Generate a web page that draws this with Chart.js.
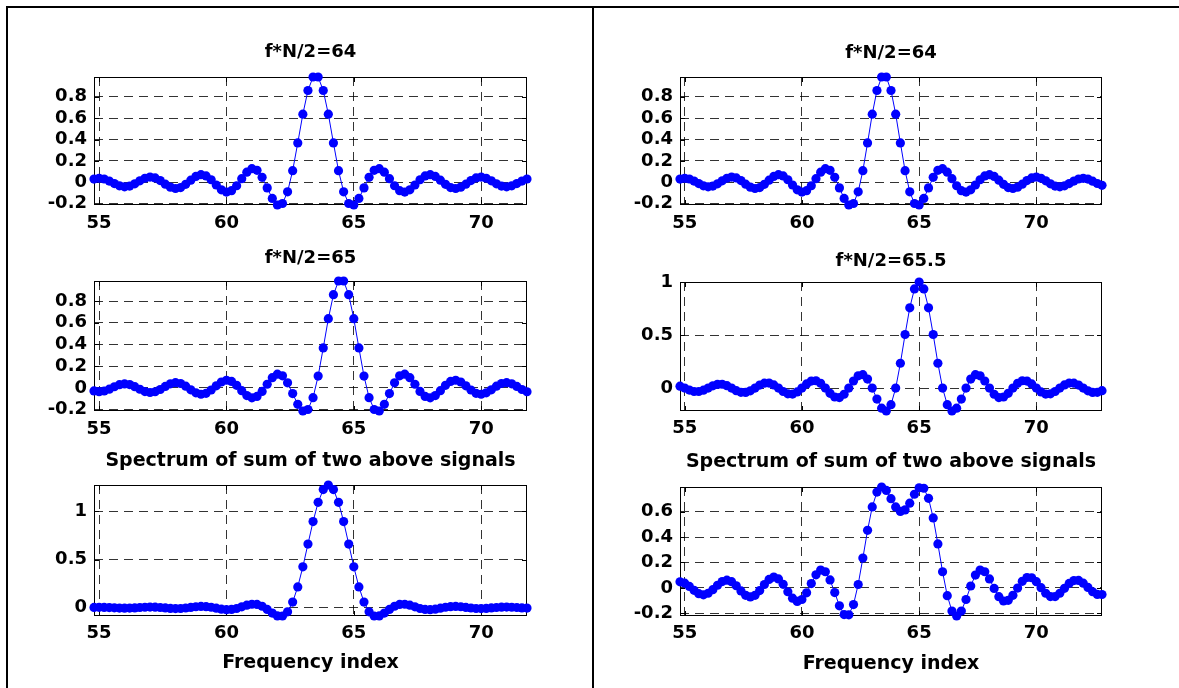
<!DOCTYPE html>
<html><head><meta charset="utf-8">
<script src="https://cdn.jsdelivr.net/npm/chart.js@4.4.1/dist/chart.umd.min.js"></script>
<style>
html,body{margin:0;padding:0;background:#fff;overflow:hidden;width:1179px;height:688px;}
#wrap{position:relative;width:1179px;height:688px;}
#wrap canvas{position:absolute;}
.rule{position:absolute;background:#000;}
</style></head><body><div id="wrap">
<div class="rule" style="left:6px;top:6px;width:1173px;height:2px"></div>
<div class="rule" style="left:6px;top:6px;width:2px;height:682px"></div>
<div class="rule" style="left:592px;top:6px;width:2px;height:682px"></div>
</div>
<script>
// ---- data ----
const freqIndex = [54.8,55.0,55.2,55.4,55.6,55.8,56.0,56.2,56.4,56.6,56.8,57.0,57.2,57.4,57.6,57.8,58.0,58.2,58.4,58.6,58.8,59.0,59.2,59.4,59.6,59.8,60.0,60.2,60.4,60.6,60.8,61.0,61.2,61.4,61.6,61.8,62.0,62.2,62.4,62.6,62.8,63.0,63.2,63.4,63.6,63.8,64.0,64.2,64.4,64.6,64.8,65.0,65.2,65.4,65.6,65.8,66.0,66.2,66.4,66.6,66.8,67.0,67.2,67.4,67.6,67.8,68.0,68.2,68.4,68.6,68.8,69.0,69.2,69.4,69.6,69.8,70.0,70.2,70.4,70.6,70.8,71.0,71.2,71.4,71.6,71.8,72.0,72.2,72.4,72.6,72.8];

const spec64 = [0.030,0.037,0.031,0.012,-0.012,-0.033,-0.042,-0.035,-0.014,0.014,
 0.038,0.049,0.041,0.016,-0.017,-0.045,-0.058,-0.049,-0.019,0.020,
 0.055,0.071,0.060,0.024,-0.025,-0.070,-0.091,-0.078,-0.032,0.034,
 0.095,0.127,0.112,0.047,-0.052,-0.151,-0.212,-0.198,-0.089,0.109,
 0.368,0.637,0.858,0.984,0.984,0.858,0.637,0.368,0.109,-0.089,
 -0.198,-0.212,-0.151,-0.052,0.047,0.112,0.127,0.095,0.034,-0.032,
 -0.078,-0.091,-0.070,-0.025,0.024,0.060,0.071,0.055,0.020,-0.019,
 -0.049,-0.058,-0.045,-0.017,0.016,0.041,0.049,0.038,0.014,-0.014,
 -0.035,-0.042,-0.033,-0.012,0.012,0.031,0.037,0.030,0.011,-0.011,
 -0.028];

const spec65 = [-0.027,-0.034,-0.028,-0.011,0.011,0.030,0.037,0.031,0.012,-0.012,
 -0.033,-0.042,-0.035,-0.014,0.014,0.038,0.049,0.041,0.016,-0.017,
 -0.045,-0.058,-0.049,-0.019,0.020,0.055,0.071,0.060,0.024,-0.025,
 -0.070,-0.091,-0.078,-0.032,0.034,0.095,0.127,0.112,0.047,-0.052,
 -0.151,-0.212,-0.198,-0.089,0.109,0.368,0.637,0.858,0.984,0.984,
 0.858,0.637,0.368,0.109,-0.089,-0.198,-0.212,-0.151,-0.052,0.047,
 0.112,0.127,0.095,0.034,-0.032,-0.078,-0.091,-0.070,-0.025,0.024,
 0.060,0.071,0.055,0.020,-0.019,-0.049,-0.058,-0.045,-0.017,0.016,
 0.041,0.049,0.038,0.014,-0.014,-0.035];

const sum64and65 = [0.003,0.004,0.003,0.001,-0.001,-0.004,-0.005,-0.004,-0.002,0.002,
 0.005,0.007,0.006,0.002,-0.002,-0.007,-0.009,-0.008,-0.003,0.003,
 0.010,0.013,0.011,0.005,-0.005,-0.015,-0.020,-0.018,-0.008,0.009,
 0.026,0.036,0.034,0.015,-0.018,-0.056,-0.085,-0.086,-0.043,0.058,
 0.216,0.424,0.660,0.894,1.093,1.226,1.273,1.226,1.093,0.894,
 0.660,0.424,0.216,0.058,-0.043,-0.086,-0.085,-0.056,-0.018,0.015,
 0.034,0.036,0.026,0.009,-0.008,-0.018,-0.020,-0.015,-0.005,0.005,
 0.011,0.013,0.010,0.003,-0.003,-0.008,-0.009,-0.007,-0.002,0.002,
 0.006,0.007,0.005,0.002,-0.002,-0.004];

const spec655 = [0.018,0.000,-0.019,-0.032,-0.032,-0.020,0.000,0.021,0.035,0.036,
 0.023,0.000,-0.024,-0.040,-0.041,-0.026,0.000,0.028,0.046,0.047,
 0.030,0.000,-0.032,-0.054,-0.056,-0.036,0.000,0.039,0.066,0.069,
 0.045,0.000,-0.049,-0.084,-0.089,-0.058,0.000,0.067,0.116,0.126,
 0.085,0.000,-0.104,-0.189,-0.216,-0.156,0.000,0.234,0.505,0.757,
 0.935,1.000,0.935,0.757,0.505,0.234,0.000,-0.156,-0.216,-0.189,
 -0.104,0.000,0.085,0.126,0.116,0.067,0.000,-0.058,-0.089,-0.084,
 -0.049,0.000,0.045,0.069,0.066,0.039,0.000,-0.036,-0.056,-0.054,
 -0.032,0.000,0.030,0.047,0.046,0.028,0.000,-0.026,-0.041,-0.040,
 -0.024];

const sum64and655 = [0.048,0.037,0.012,-0.019,-0.045,-0.054,-0.042,-0.014,0.021,0.050,
 0.061,0.049,0.017,-0.024,-0.058,-0.071,-0.058,-0.021,0.027,0.067,
 0.085,0.071,0.028,-0.030,-0.081,-0.106,-0.091,-0.039,0.034,0.103,
 0.140,0.127,0.063,-0.037,-0.141,-0.210,-0.212,-0.131,0.027,0.235,
 0.453,0.637,0.754,0.794,0.767,0.702,0.637,0.602,0.614,0.667,
 0.737,0.788,0.784,0.705,0.551,0.346,0.127,-0.061,-0.182,-0.221,
 -0.182,-0.091,0.015,0.101,0.140,0.127,0.071,-0.004,-0.069,-0.103,
 -0.098,-0.058,-0.001,0.052,0.082,0.080,0.049,0.002,-0.042,-0.068,
 -0.068,-0.042,-0.003,0.035,0.058,0.059,0.037,0.004,-0.030,-0.051,
 -0.052];

const xTicks = [55,60,65,70];
const xTickLabels = ['55','60','65','70'];
const yTicksFine = [-0.2,0,0.2,0.4,0.6,0.8];
const yTickLabelsFine = ['-0.2','0','0.2','0.4','0.6','0.8'];
const yTicksCoarse = [0,0.5,1];
const yTickLabelsCoarse = ['0','0.5','1'];
const yTicksSum2 = [-0.2,0,0.2,0.4,0.6];
const yTickLabelsSum2 = ['-0.2','0','0.2','0.4','0.6'];
const nLeft = 86; // left column shows 54.8 .. 71.8

// ---- drawing ----
const FONT = "'DejaVu Sans', sans-serif";
const GRID = 'rgba(0,0,0,0.8)';

const boxPlugin = {
  id: 'axbox',
  beforeDatasetsDraw(chart) {
    const {ctx, chartArea: a, scales: {x, y}} = chart;
    ctx.save();
    ctx.strokeStyle = '#000';
    ctx.lineWidth = 1;
    ctx.setLineDash([]);
    ctx.strokeRect(a.left + 0.5, a.top + 0.5, a.right - a.left - 1, a.bottom - a.top - 1);
    ctx.beginPath();
    x.ticks.forEach(t => {
      const px = Math.round(x.getPixelForValue(t.value)) + 0.5;
      ctx.moveTo(px, a.bottom); ctx.lineTo(px, a.bottom - 5);
      ctx.moveTo(px, a.top); ctx.lineTo(px, a.top + 5);
    });
    y.ticks.forEach(t => {
      const py = Math.round(y.getPixelForValue(t.value)) + 0.5;
      ctx.moveTo(a.left, py); ctx.lineTo(a.left + 5, py);
      ctx.moveTo(a.right, py); ctx.lineTo(a.right - 5, py);
    });
    ctx.stroke();
    ctx.restore();
  }
};

function panel(p) {
  const cv = document.createElement('canvas');
  const W = p.box.r - p.box.l, H = p.box.b - p.box.t;
  cv.width = W; cv.height = H;
  cv.style.left = p.box.l + 'px'; cv.style.top = p.box.t + 'px';
  cv.style.width = W + 'px'; cv.style.height = H + 'px';
  document.getElementById('wrap').appendChild(cv);
  const lh = p.titleSize * 1.2;
  const padTop = p.titleMid - p.box.t - lh / 2;
  const padBot = (p.area.t - p.box.t) - padTop - lh;
  const pts = p.x.map((v, i) => ({x: v, y: p.y[i]}));
  const ymin = Math.min(...p.y), ymax = Math.max(...p.y);
  const xlh = 19 * 1.2;
  new Chart(cv, {
    type: 'line',
    data: {datasets: [{
      data: pts, borderColor: '#0000ff', backgroundColor: '#0000ff', borderWidth: 1,
      pointRadius: 4.6, pointHoverRadius: 4.6, pointBorderWidth: 0,
      pointBackgroundColor: '#0000ff', tension: 0, clip: false
    }]},
    options: {
      responsive: false, animation: false, devicePixelRatio: 1, events: [],
      layout: {padding: {left: 0, top: 0, right: p.box.r - p.area.r, bottom: 0}},
      plugins: {
        legend: {display: false}, tooltip: {enabled: false},
        title: {display: true, text: p.title, color: '#000', fullSize: false,
          font: {family: FONT, size: p.titleSize, weight: 'bold', lineHeight: 1.2},
          padding: {top: padTop, bottom: padBot}}
      },
      scales: {
        x: {
          type: 'linear', min: p.x[0], max: p.x[p.x.length - 1],
          afterBuildTicks: s => { s.ticks = xTicks.map(v => ({value: v})); },
          afterFit: s => { s.height = p.box.b - p.area.b; },
          ticks: {padding: p.xPad, color: '#000', autoSkip: false, maxRotation: 0,
            font: {family: FONT, size: 18, weight: 'bold'},
            callback: (v, i) => xTickLabels[i]},
          grid: {drawTicks: false, color: GRID, lineWidth: 1},
          border: {display: false, dash: [9, 6]},
          title: p.xlabel ? {display: true, text: p.xlabel, color: '#000',
            font: {family: FONT, size: 19, weight: 'bold', lineHeight: 1.2},
            padding: {top: 0, bottom: p.box.b - p.xTitleMid - xlh / 2}} : {display: false}
        },
        y: {
          type: 'linear', min: ymin, max: ymax,
          afterBuildTicks: s => { s.ticks = p.yTicks.map(v => ({value: v})); },
          afterFit: s => { s.width = p.area.l - p.box.l; },
          ticks: {padding: 7, color: '#000', autoSkip: false,
            font: {family: FONT, size: 18, weight: 'bold'},
            callback: (v, i) => p.yLabels[i]},
          grid: {drawTicks: false, color: GRID, lineWidth: 1},
          border: {display: false, dash: [9, 6]}
        }
      }
    },
    plugins: [boxPlugin]
  });
}

const xL = freqIndex.slice(0, nLeft);
panel({box:{l:8,t:8,r:590,b:237}, area:{l:94,t:77,r:527,b:205}, title:'f*N/2=64', titleSize:18, titleMid:52.5,
  x:xL, y:spec64.slice(0, nLeft), yTicks:yTicksFine, yLabels:yTickLabelsFine, xPad:8});
panel({box:{l:8,t:237,r:590,b:442}, area:{l:94,t:281,r:527,b:411}, title:'f*N/2=65', titleSize:18, titleMid:258.2,
  x:xL, y:spec65, yTicks:yTicksFine, yLabels:yTickLabelsFine, xPad:8});
panel({box:{l:8,t:442,r:590,b:688}, area:{l:94,t:485,r:527,b:616}, title:'Spectrum of sum of two above signals', titleSize:19, titleMid:461.2,
  x:xL, y:sum64and65, yTicks:yTicksCoarse, yLabels:yTickLabelsCoarse, xPad:7, xlabel:'Frequency index', xTitleMid:662.7});
panel({box:{l:596,t:8,r:1179,b:237}, area:{l:680,t:77,r:1102,b:205}, title:'f*N/2=64', titleSize:18, titleMid:53.5,
  x:freqIndex, y:spec64, yTicks:yTicksFine, yLabels:yTickLabelsFine, xPad:8});
panel({box:{l:596,t:237,r:1179,b:442}, area:{l:680,t:282,r:1102,b:411}, title:'f*N/2=65.5', titleSize:18, titleMid:260.9,
  x:freqIndex, y:spec655, yTicks:yTicksCoarse, yLabels:yTickLabelsCoarse, xPad:7});
panel({box:{l:596,t:442,r:1179,b:688}, area:{l:680,t:487,r:1102,b:616}, title:'Spectrum of sum of two above signals', titleSize:19, titleMid:462.4,
  x:freqIndex, y:sum64and655, yTicks:yTicksSum2, yLabels:yTickLabelsSum2, xPad:7, xlabel:'Frequency index', xTitleMid:664.4});
</script>
</body></html>
